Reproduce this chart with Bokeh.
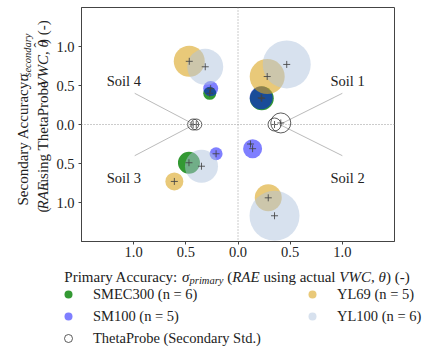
import math
from bokeh.plotting import figure
from bokeh.layouts import column, row
from bokeh.models import Label, Span, Legend, LegendItem, FixedTicker
from bokeh.embed import file_html
from bokeh.resources import INLINE

# ---------------- data ----------------
SOILS = ["Soil 1", "Soil 2", "Soil 3", "Soil 4"]

SMEC300_X = [0.228, 0.12, -0.47, -0.271]
SMEC300_Y = [0.335, -0.25, -0.49, 0.40]
SMEC300_S = [24, 2, 22, 13]

SM100_X = [0.222, 0.14, -0.21, -0.262]
SM100_Y = [0.342, -0.31, -0.375, 0.46]
SM100_S = [23, 19, 13, 15]

YL69_X = [0.28, 0.29, -0.61, -0.467]
YL69_Y = [0.615, -0.94, -0.73, 0.81]
YL69_S = [35, 27, 18, 31]

YL100_X = [0.467, 0.35, -0.35, -0.314]
YL100_Y = [0.77, -1.17, -0.535, 0.74]
YL100_S = [48, 50, 33, 36]

THETA_X = [0.41, 0.35, -0.43, -0.40]
THETA_Y = [0.02, 0.0, 0.0, 0.0]
THETA_S = [20, 13, 11, 11]

TICKS = [-1.0, -0.5, 0.0, 0.5, 1.0]
TICK_LABELS = ["1.0", "0.5", "0.0", "0.5", "1.0"]

LEGEND_LEFT = ["SMEC300 (n = 6)", "SM100 (n = 5)", "ThetaProbe (Secondary Std.)"]
LEGEND_RIGHT = ["YL69 (n = 5)", "YL100 (n = 6)"]

# soil label annotation positions
SOIL_TEXT_X = [1.05, 1.05, -1.095, -1.095]
SOIL_TEXT_Y = [0.56, -0.68, -0.68, 0.56]
SOIL_LINE_X0 = [1.0, 1.0, -0.99, -0.99]
SOIL_LINE_Y0 = [0.40, -0.40, -0.40, 0.40]
SOIL_LINE_X1 = [0.40, 0.40, -0.42, -0.42]
SOIL_LINE_Y1 = [0.0, 0.0, 0.0, 0.0]

FONT = "Liberation Serif"
TXT = "#222222"

TOTAL_W, TOTAL_H = 431, 355
LEFT_W = 53
MAIN_W = TOTAL_W - LEFT_W
MAIN_H = 265
BOT_H = TOTAL_H - MAIN_H

# ---------------- main figure ----------------
p = figure(width=MAIN_W, height=MAIN_H, x_range=(-1.5, 1.5), y_range=(-1.5, 1.5),
           output_backend="svg", toolbar_location=None,
           min_border_left=26, min_border_right=37, min_border_top=7, min_border_bottom=24)
p.grid.visible = False
p.outline_line_color = "#444444"
p.outline_line_width = 1

for ax in (p.xaxis[0], p.yaxis[0]):
    ax.ticker = FixedTicker(ticks=TICKS)
    ax.major_label_overrides = dict(zip(TICKS, TICK_LABELS))
    ax.major_label_text_font = FONT
    ax.major_label_text_font_size = "14.5px"
    ax.major_label_text_color = TXT
    ax.axis_line_color = "#444444"
    ax.major_tick_line_color = "#444444"
    ax.major_tick_in = 0
    ax.major_tick_out = 3
    ax.minor_tick_line_color = None
p.xaxis[0].major_label_standoff = 2
p.yaxis[0].major_label_standoff = 4

p.add_layout(Span(location=0, dimension="width", line_color="#999999", line_dash="1 2", line_width=1))
p.add_layout(Span(location=0, dimension="height", line_color="#999999", line_dash="1 2", line_width=1))

p.segment(SOIL_LINE_X0, SOIL_LINE_Y0, SOIL_LINE_X1, SOIL_LINE_Y1, line_color="#bbbbbb", line_width=1)

series = [
    (SMEC300_X, SMEC300_Y, SMEC300_S, "green", 0.8),
    (SM100_X, SM100_Y, SM100_S, "blue", 0.5),
    (YL69_X, YL69_Y, YL69_S, "goldenrod", 0.6),
    (YL100_X, YL100_Y, YL100_S, "lightsteelblue", 0.5),
]
for xs, ys, ss, col, a in series:
    p.scatter(xs, ys, size=ss, marker="circle", fill_color=col, fill_alpha=a, line_color=None)

p.scatter(THETA_X, THETA_Y, size=THETA_S, marker="circle", fill_color=None,
          line_color="#333333", line_width=0.8)

all_x = SMEC300_X + SM100_X + YL69_X + YL100_X + THETA_X
all_y = SMEC300_Y + SM100_Y + YL69_Y + YL100_Y + THETA_Y
p.scatter(all_x, all_y, marker="cross", size=7, line_color="#444444", line_width=1, line_alpha=0.85)

for t, x, y in zip(SOILS, SOIL_TEXT_X, SOIL_TEXT_Y):
    p.add_layout(Label(x=x, y=y, text=t, text_align="center", text_baseline="middle",
                       text_font=FONT, text_font_size="14.5px", text_color=TXT))

# ---------------- helper figures (pixel coordinates) ----------------
def blank(w, h):
    f = figure(width=w, height=h, x_range=(0, w), y_range=(0, h), output_backend="svg",
               toolbar_location=None, x_axis_type=None, y_axis_type=None,
               min_border=0, min_border_left=0, min_border_right=0,
               min_border_top=0, min_border_bottom=0)
    f.grid.visible = False
    f.outline_line_color = None
    return f

left = blank(LEFT_W, MAIN_H)
bottom = blank(TOTAL_W, BOT_H)

# ---------------- axis titles (mixed styles) ----------------
REG = {' ': 250, '(': 333, ')': 333, ',': 250, '-': 333, '.': 250, ':': 278,
       'A': 722, 'C': 667, 'E': 611, 'P': 556, 'R': 667, 'S': 556, 'T': 611, 'V': 722, 'W': 944,
       'a': 444, 'b': 500, 'c': 444, 'd': 500, 'e': 444, 'g': 500, 'h': 500, 'i': 278, 'l': 278,
       'm': 778, 'n': 500, 'o': 500, 'p': 500, 'r': 333, 's': 389, 't': 278, 'u': 500, 'y': 500}
ITA = {' ': 250, ',': 250, 'A': 611, 'C': 667, 'E': 611, 'R': 611, 'V': 611, 'W': 833,
       'a': 500, 'c': 444, 'd': 500, 'e': 444, 'i': 278, 'm': 722, 'n': 500, 'o': 500, 'p': 500,
       'r': 389, 's': 389, 'y': 444, 't': 278, 'u': 500, 'σ': 520, 'θ': 500}

def tw(s, ital, fs):
    tb = ITA if ital else REG
    return sum(tb.get(c, 500) for c in s) * fs / 1000.0

AX_FS = 15.0
SUB = 0.7

def put(fig, text, x, y, angle, fs, ital, baseline):
    fig.add_layout(Label(x=x, y=y, text=text, angle=angle,
                         text_font=FONT, text_font_size=f"{fs:.1f}px",
                         text_font_style="italic" if ital else "normal",
                         text_align="center", text_baseline=baseline, text_color=TXT))

def place(fig, pieces, cx, cy, angle):
    total = sum(tw(t, i, AX_FS * (SUB if s else 1)) for t, i, s, h in pieces)
    pos = -total / 2.0
    for t, ital, sub, hat in pieces:
        fs = AX_FS * (SUB if sub else 1)
        w = tw(t, ital, fs)
        st = t.strip()
        lead = tw(t[:len(t) - len(t.lstrip())], ital, fs)
        mid = pos + lead + tw(st, ital, fs) / 2.0
        shift = 3.5 if sub else 0.0
        if angle == 0:
            put(fig, st, cx + mid, cy - shift, angle, fs, ital, "alphabetic")
        else:
            # centre of the text box (rotation invariant); glyph tops point to -x
            put(fig, st, cx + shift - 0.33 * fs, cy + mid, angle, fs, ital, "middle")
        if hat:
            hc = pos + lead + tw(st[:-1], ital, fs) + tw(st[-1], ital, fs) / 2.0 + 1.0
            if angle == 0:
                put(fig, "\u02c6", cx + hc, cy + 4, angle, fs, False, "alphabetic")
            else:
                put(fig, "\u02c6", cx - 4 - 0.33 * fs, cy + hc, angle, fs, False, "middle")
        pos += w

X_TITLE = [("Primary Accuracy: ", False, False, False), ("σ", True, False, False),
           ("primary", True, True, False), (" (", False, False, False),
           ("RAE", True, False, False), (" using actual ", False, False, False),
           ("VWC, θ", True, False, False), (") (-)", False, False, False)]
Y_TITLE_1 = [("Secondary Accuracy: ", False, False, False), ("σ", True, False, False),
             ("secondary", True, True, False)]
Y_TITLE_2 = [("(", False, False, False), ("RAE", True, False, False),
             (" using ThetaProbe ", False, False, False), ("VWC, θ", True, False, True),
             (") (-)", False, False, False)]

# page coordinates -> helper figure coordinates (x = baseline position of each line)
place(bottom, X_TITLE, 236.5, TOTAL_H - 276, 0)
place(left, Y_TITLE_1, 27, MAIN_H - 124, math.pi / 2)
place(left, Y_TITLE_2, 47, MAIN_H - 124, math.pi / 2)

# ---------------- legends ----------------
NAN = float("nan")

def proxy(fill, alpha, line=None):
    return bottom.scatter(x=[NAN], y=[NAN], marker="circle", size=9, fill_color=fill,
                          fill_alpha=alpha, line_color=line, line_width=0.8)

r_sm = proxy("green", 0.8)
r_s1 = proxy("blue", 0.5)
r_th = proxy("white", 1.0, "#333333")
r_y6 = proxy("goldenrod", 0.6)
r_y1 = proxy("lightsteelblue", 0.5)

def mk_legend(labels, rends, loc):
    lg = Legend(items=[LegendItem(label=l, renderers=[r]) for l, r in zip(labels, rends)],
                location=loc, orientation="vertical", padding=0, margin=0, spacing=2,
                glyph_width=20, glyph_height=20, label_height=20, label_standoff=15,
                label_text_font=FONT, label_text_font_size="14.5px", label_text_color=TXT,
                border_line_color=None, background_fill_alpha=0)
    bottom.add_layout(lg)

TOP_ROW_Y = TOTAL_H - 294  # centre of first legend row, helper-figure coordinates
mk_legend(LEGEND_LEFT, [r_sm, r_s1, r_th], (58, TOP_ROW_Y + 10 - 64))
mk_legend(LEGEND_RIGHT, [r_y6, r_y1], (302, TOP_ROW_Y + 10 - 42))

layout = column(row(left, p), bottom)
open("out.html", "w").write(file_html(layout, INLINE))
